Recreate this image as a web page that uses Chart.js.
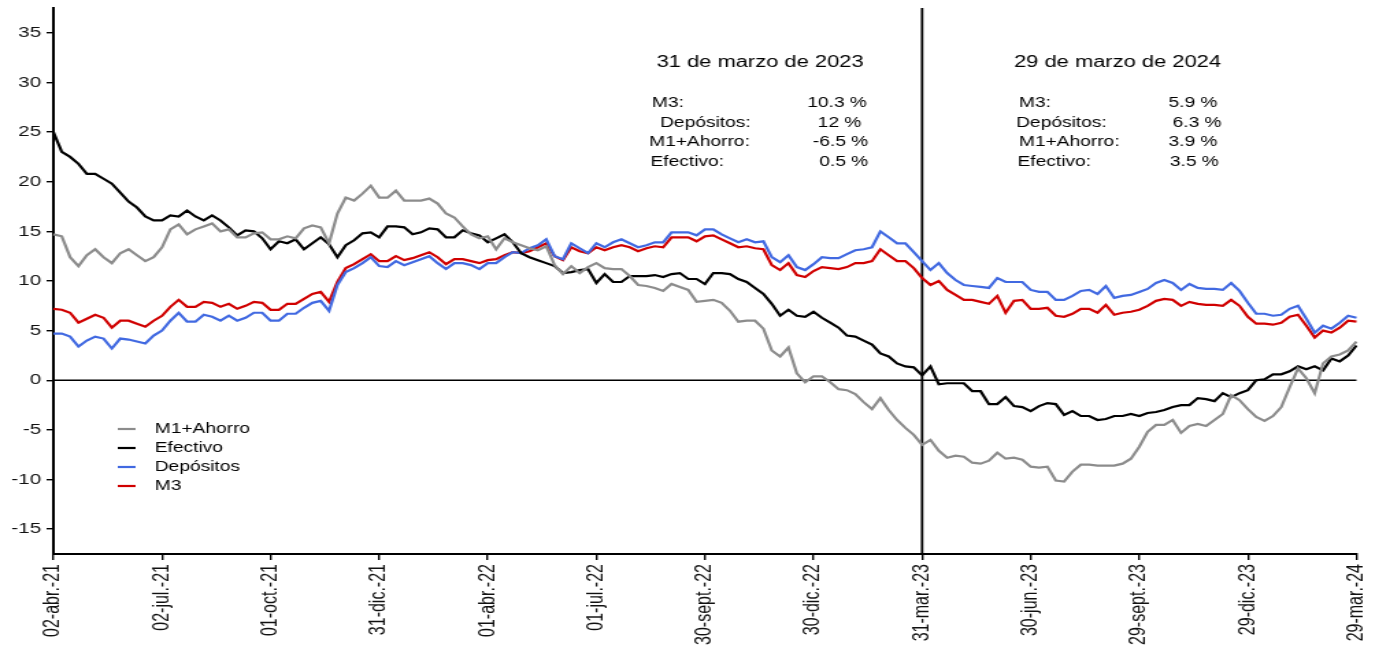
<!DOCTYPE html>
<html>
<head>
<meta charset="utf-8">
<script src="https://cdn.jsdelivr.net/npm/chart.js@4"></script>
<style>
body { margin: 0; background: #fff; }
</style>
</head>
<body>
<canvas id="chart" width="1015" height="646" style="width:1390px;height:646px"></canvas>
<script>

// weekly, 02-abr-21 .. 29-mar-24 (157 weeks), labelled every 13 weeks
let tickLabels = ['02-abr.-21', '02-jul.-21', '01-oct.-21', '31-dic.-21', '01-abr.-22', '01-jul.-22',
  '30-sept.-22', '30-dic.-22', '31-mar.-23', '30-jun.-23', '29-sept.-23', '29-dic.-23', '29-mar.-24']
let yTicks = [-15, -10, -5, 0, 5, 10, 15, 20, 25, 30, 35]

let m1Ahorro = [
  14.7, 14.5, 12.4, 11.5, 12.6, 13.2, 12.4, 11.8, 12.8, 13.2, 12.6, 12.0, 12.4,
  13.4, 15.2, 15.7, 14.7, 15.2, 15.5, 15.8, 15.0, 15.2, 14.4, 14.4, 14.8, 14.9,
  14.2, 14.2, 14.5, 14.3, 15.3, 15.6, 15.4, 13.8, 16.8, 18.4, 18.1, 18.8, 19.6,
  18.4, 18.4, 19.1, 18.1, 18.1, 18.1, 18.3, 17.8, 16.8, 16.4, 15.5, 14.7, 14.3,
  14.5, 13.2, 14.3, 13.9, 13.6, 13.3, 13.1, 13.5, 11.6, 10.7, 11.5, 10.8, 11.4,
  11.8, 11.3, 11.2, 11.2, 10.5, 9.6, 9.5, 9.3, 9.0, 9.7, 9.4, 9.1, 7.9,
  8.0, 8.1, 7.8, 7.0, 5.9, 6.0, 6.0, 5.2, 3.0, 2.4, 3.3, 0.7, -0.2,
  0.4, 0.4, -0.2, -0.9, -1.0, -1.4, -2.2, -2.9, -1.8, -3.0, -4.0, -4.8, -5.5,
  -6.5, -6.0, -7.1, -7.8, -7.6, -7.7, -8.3, -8.4, -8.1, -7.3, -7.9, -7.8, -8.0,
  -8.7, -8.8, -8.7, -10.1, -10.2, -9.2, -8.5, -8.5, -8.6, -8.6, -8.6, -8.4, -7.9,
  -6.7, -5.2, -4.5, -4.5, -4.0, -5.3, -4.6, -4.4, -4.6, -4.0, -3.4, -1.5, -2.0,
  -2.9, -3.7, -4.1, -3.6, -2.7, -0.7, 1.2, 0.2, -1.3, 1.7, 2.4, 2.6, 3.0,
  3.9
]

let efectivo = [
  25.0, 23.0, 22.5, 21.8, 20.8, 20.8, 20.3, 19.8, 18.9, 18.0, 17.4, 16.5, 16.1,
  16.1, 16.6, 16.5, 17.1, 16.5, 16.1, 16.6, 16.1, 15.4, 14.6, 15.1, 15.0, 14.3,
  13.2, 14.0, 13.8, 14.2, 13.2, 13.8, 14.4, 13.7, 12.4, 13.6, 14.1, 14.8, 14.9,
  14.4, 15.5, 15.5, 15.4, 14.7, 14.9, 15.3, 15.2, 14.4, 14.4, 15.1, 14.8, 14.6,
  13.9, 14.3, 14.7, 13.9, 12.8, 12.4, 12.1, 11.8, 11.5, 10.8, 10.9, 11.1, 11.2,
  9.8, 10.7, 9.9, 9.9, 10.5, 10.5, 10.5, 10.6, 10.4, 10.7, 10.8, 10.2, 10.2,
  9.7, 10.8, 10.8, 10.7, 10.2, 9.9, 9.3, 8.7, 7.7, 6.5, 7.1, 6.5, 6.4,
  6.9, 6.3, 5.8, 5.3, 4.5, 4.4, 4.0, 3.6, 2.7, 2.4, 1.7, 1.4, 1.3,
  0.5, 1.4, -0.4, -0.3, -0.3, -0.3, -1.1, -1.1, -2.4, -2.4, -1.7, -2.6, -2.7,
  -3.1, -2.6, -2.3, -2.4, -3.5, -3.1, -3.6, -3.6, -4.0, -3.9, -3.6, -3.6, -3.4,
  -3.6, -3.3, -3.2, -3.0, -2.7, -2.5, -2.5, -1.8, -1.9, -2.1, -1.3, -1.7, -1.3,
  -1.0, 0.0, 0.1, 0.6, 0.6, 0.9, 1.4, 1.1, 1.4, 1.0, 2.2, 1.9, 2.5,
  3.5
]

let depositos = [
  4.7, 4.7, 4.4, 3.4, 4.0, 4.4, 4.2, 3.2, 4.2, 4.1, 3.9, 3.7, 4.5,
  5.0, 6.0, 6.8, 5.9, 5.9, 6.6, 6.4, 6.0, 6.5, 6.0, 6.3, 6.8, 6.8,
  6.0, 6.0, 6.7, 6.7, 7.3, 7.8, 8.0, 7.0, 9.6, 10.9, 11.3, 11.8, 12.4,
  11.5, 11.4, 12.0, 11.6, 11.9, 12.2, 12.5, 11.8, 11.2, 11.8, 11.8, 11.6, 11.2,
  11.8, 11.8, 12.4, 12.9, 12.8, 13.3, 13.6, 14.2, 12.5, 12.2, 13.8, 13.3, 12.8,
  13.8, 13.4, 13.9, 14.2, 13.8, 13.4, 13.6, 13.9, 13.9, 14.9, 14.9, 14.9, 14.6,
  15.2, 15.2, 14.7, 14.3, 13.9, 14.2, 13.9, 14.0, 12.4, 11.9, 12.6, 11.4, 11.1,
  11.7, 12.4, 12.3, 12.3, 12.7, 13.1, 13.2, 13.4, 15.0, 14.4, 13.8, 13.8, 12.9,
  12, 11.1, 11.8, 10.8, 10.1, 9.6, 9.5, 9.4, 9.3, 10.3, 9.9, 9.9, 9.9,
  9.1, 8.9, 8.9, 8.1, 8.1, 8.5, 9.0, 9.1, 8.7, 9.5, 8.3, 8.5, 8.6,
  8.9, 9.2, 9.8, 10.1, 9.8, 9.1, 9.7, 9.3, 9.2, 9.2, 9.1, 9.8, 9.0,
  7.8, 6.7, 6.7, 6.5, 6.6, 7.2, 7.5, 6.2, 4.8, 5.5, 5.2, 5.8, 6.5,
  6.3
]

let m3 = [
  7.2, 7.1, 6.8, 5.8, 6.2, 6.6, 6.3, 5.3, 6.0, 6.0, 5.7, 5.4, 6.0,
  6.5, 7.4, 8.1, 7.4, 7.4, 7.9, 7.8, 7.4, 7.7, 7.2, 7.5, 7.9, 7.8,
  7.1, 7.1, 7.7, 7.7, 8.2, 8.7, 8.9, 7.9, 9.9, 11.3, 11.7, 12.2, 12.7,
  12.0, 12.0, 12.5, 12.1, 12.3, 12.6, 12.9, 12.4, 11.7, 12.2, 12.2, 12.0, 11.8,
  12.1, 12.2, 12.6, 12.9, 12.8, 13.0, 13.4, 13.8, 12.5, 12.1, 13.4, 13.0, 12.8,
  13.4, 13.1, 13.4, 13.6, 13.4, 13.0, 13.3, 13.5, 13.4, 14.4, 14.4, 14.4, 14.0,
  14.5, 14.6, 14.2, 13.8, 13.4, 13.5, 13.3, 13.2, 11.6, 11.1, 11.8, 10.6, 10.4,
  11.0, 11.4, 11.3, 11.2, 11.4, 11.8, 11.8, 12.0, 13.2, 12.6, 12.0, 12.0, 11.3,
  10.3, 9.6, 10.0, 9.1, 8.6, 8.1, 8.1, 7.9, 7.7, 8.5, 6.8, 8.0, 8.1,
  7.2, 7.2, 7.3, 6.5, 6.4, 6.7, 7.2, 7.2, 6.8, 7.6, 6.6, 6.8, 6.9,
  7.1, 7.5, 8.0, 8.2, 8.1, 7.5, 7.9, 7.7, 7.6, 7.6, 7.5, 8.1, 7.5,
  6.4, 5.7, 5.7, 5.6, 5.8, 6.4, 6.6, 5.5, 4.3, 5.0, 4.8, 5.3, 6.0,
  5.9
]

let seriesNames = ['M1+Ahorro', 'Efectivo', 'Depósitos', 'M3']
let seriesColors = ['#8c8c8c', '#000000', '#4169e1', '#d00000']

// text boxes: date title, week shown, row order
let boxTitles = ['31 de marzo de 2023', '29 de marzo de 2024']
let boxWeeks = ['31-mar.-23', '29-mar.-24']
let boxRows = ['M3', 'Depósitos', 'M1+Ahorro', 'Efectivo']
let boxRowText = ['M3:', 'Depósitos:', 'M1+Ahorro:', 'Efectivo:']


let labels = []
for (let i = 0; i < m3.length; i++) labels.push(i % 13 === 0 ? tickLabels[i / 13] : '')

const FONT = "'Liberation Sans', Arial, sans-serif"
Chart.defaults.font.family = FONT

const overlay = {
  id: 'overlay',
  beforeDatasetsDraw(chart) {
    const {ctx, chartArea, scales} = chart
    const y0 = scales.y.getPixelForValue(0)
    const xm = scales.x.getPixelForValue(labels.indexOf(boxWeeks[0]))
    ctx.save()
    ctx.strokeStyle = '#000'
    ctx.lineWidth = 1.6
    ctx.beginPath()
    ctx.moveTo(chartArea.left, y0)
    ctx.lineTo(chartArea.right, y0)
    ctx.stroke()
    ctx.lineWidth = 1.8
    ctx.beginPath()
    ctx.moveTo(xm, chartArea.top)
    ctx.lineTo(xm, chartArea.bottom)
    ctx.stroke()
    ctx.restore()
  },
  afterDraw(chart) {
    const ctx = chart.ctx
    const ds = chart.data.datasets
    ctx.save()
    ctx.fillStyle = '#000'
    ctx.textBaseline = 'middle'

    // legend
    ctx.font = '14px ' + FONT
    ds.forEach((d, i) => {
      const y = 429 + i * 19
      ctx.strokeStyle = d.borderColor
      ctx.lineWidth = 2.2
      ctx.beginPath()
      ctx.moveTo(86, y)
      ctx.lineTo(99, y)
      ctx.stroke()
      ctx.textAlign = 'left'
      ctx.fillText(d.label, 113, y)
    })

    // boxes
    const titleX = [555, 816]
    const labelX = [[476, 482, 474, 475], [744, 742, 744, 743]]
    const valueX = [[633, 629, 634, 634], [889, 892, 889, 890]]
    boxTitles.forEach((t, b) => {
      const idx = labels.indexOf(boxWeeks[b])
      ctx.font = '16px ' + FONT
      ctx.textAlign = 'center'
      ctx.fillText(t, titleX[b], 63)
      ctx.font = '14px ' + FONT
      boxRows.forEach((name, r) => {
        const d = ds.find(s => s.label === name)
        const y = 103 + r * 19.7
        ctx.textAlign = 'left'
        ctx.fillText(boxRowText[r], labelX[b][r], y)
        ctx.textAlign = 'right'
        ctx.fillText(d.data[idx] + ' %', valueX[b][r], y)
      })
    })
    ctx.restore()
  }
}

const ctx = document.getElementById('chart').getContext('2d')

const chart = new Chart(ctx, {
  type: 'line',
  data: {
    labels: labels,
    datasets: [m1Ahorro, efectivo, depositos, m3].map((values, i) => ({
      label: seriesNames[i],
      data: values,
      borderColor: seriesColors[i],
      borderWidth: 2.2,
      pointRadius: 0,
      tension: 0,
      fill: false
    }))
  },
  options: {
    responsive: false,
    animation: false,
    layout: { padding: { top: 8, right: 24.5, left: 0, bottom: 0 } },
    plugins: { legend: { display: false }, tooltip: { enabled: false } },
    scales: {
      x: {
        grid: { drawOnChartArea: false, tickLength: 6, color: '#000', lineWidth: 1.4 },
        border: { color: '#000', width: 2 },
        ticks: { autoSkip: false, minRotation: 90, maxRotation: 90, padding: 4, color: '#111', font: { size: 16 } },
        afterBuildTicks(s) { s.ticks = s.ticks.filter(t => labels[t.value] !== '') },
        afterFit(s) { s.height = 92; s.paddingLeft = 0; s.paddingRight = 0 }
      },
      y: {
        min: -17.5,
        max: 37.5,
        grid: { drawOnChartArea: false, tickLength: 5, color: '#000', lineWidth: 1.4 },
        border: { color: '#000', width: 2 },
        ticks: { padding: 4, color: '#111', font: { size: 15 } },
        afterBuildTicks(s) { s.ticks = yTicks.map(v => ({ value: v })) },
        afterFit(s) { s.width = 39; s.paddingTop = 0; s.paddingBottom = 0 }
      }
    }
  },
  plugins: [overlay]
})

</script>
</body>
</html>
